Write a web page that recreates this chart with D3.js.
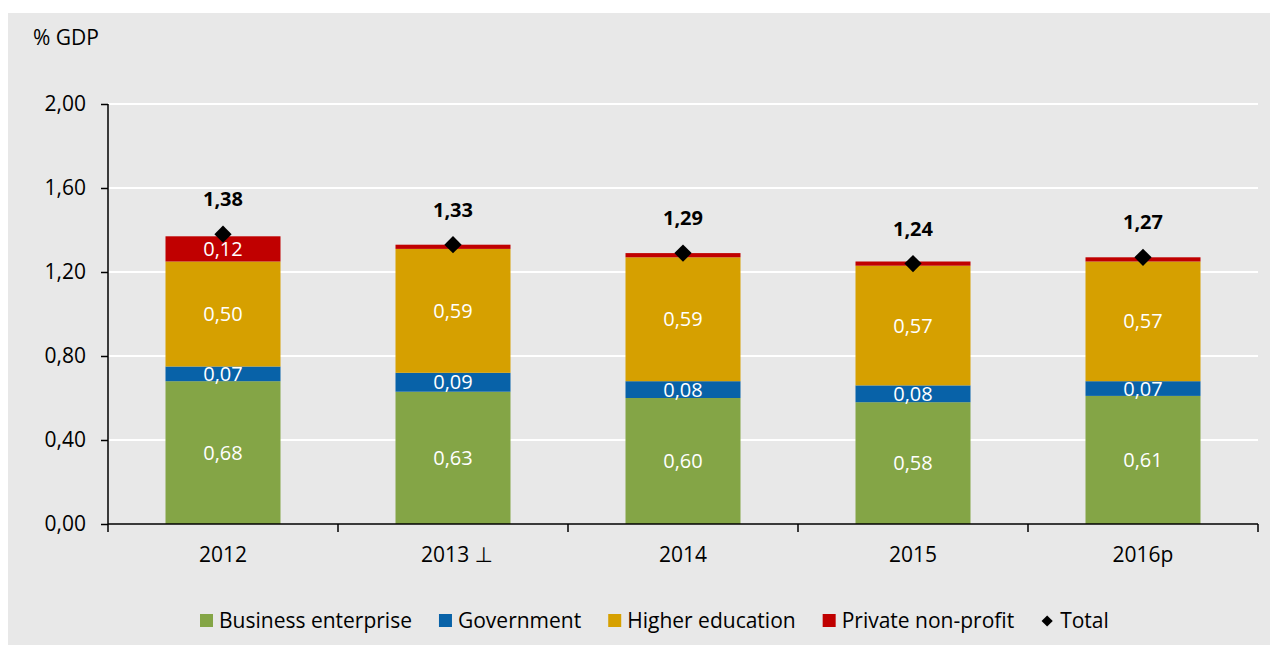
<!DOCTYPE html>
<html>
<head>
<meta charset="utf-8">
<script src="https://cdn.jsdelivr.net/npm/d3@7"></script>
<style>
  html, body { margin: 0; padding: 0; background: #ffffff; }
  svg { display: block; }
  text { font-family: "Open Sans", "DejaVu Sans", sans-serif; }
</style>
</head>
<body>
<svg id="chart" width="1270" height="645"></svg>
<script>
// ---- data ----
const categories = ["2012", "2013 \u22A5", "2014", "2015", "2016p"];
const seriesNames = ["Business enterprise", "Government", "Higher education", "Private non-profit"];
const business = [0.68, 0.63, 0.60, 0.58, 0.61];
const government = [0.07, 0.09, 0.08, 0.08, 0.07];
const higherEducation = [0.50, 0.59, 0.59, 0.57, 0.57];
const privateNonProfit = [0.12, 0.02, 0.02, 0.02, 0.02];
const totals = [1.38, 1.33, 1.29, 1.24, 1.27];
const yTicks = [0, 0.4, 0.8, 1.2, 1.6, 2.0];
const yLabel = "% GDP";
const totalName = "Total";

// ---- styles ----
const colors = ["#84A546", "#0862A8", "#D6A000", "#C00000"];
const bg = "#E8E8E8";
const fmt = v => d3.format(".2f")(v).replace(".", ",");

const svg = d3.select("#chart");
svg.append("rect").attr("x", 8).attr("y", 13).attr("width", 1262).attr("height", 632).attr("fill", bg);

const margin = { left: 108, right: 1258, top: 104, bottom: 524 };
const x = d3.scaleBand().domain(categories).range([margin.left, margin.right]).paddingInner(0.5).paddingOuter(0.25);
const xOuter = d3.scaleBand().domain(categories).range([margin.left, margin.right]).padding(0);
const y = d3.scaleLinear().domain([0, 2.0]).range([margin.bottom, margin.top]);

// gridlines
svg.append("g").selectAll("line").data(yTicks.filter(d => d > 0)).join("line")
  .attr("x1", margin.left).attr("x2", margin.right)
  .attr("y1", d => y(d)).attr("y2", d => y(d))
  .attr("stroke", "#ffffff").attr("stroke-width", 2);

// stacked data
const rows = categories.map((c, i) => ({
  cat: c,
  [seriesNames[0]]: business[i],
  [seriesNames[1]]: government[i],
  [seriesNames[2]]: higherEducation[i],
  [seriesNames[3]]: privateNonProfit[i]
}));
const stack = d3.stack().keys(seriesNames)(rows);

const layers = svg.append("g").selectAll("g").data(stack).join("g")
  .attr("fill", (d, i) => colors[i]);
layers.selectAll("rect").data(d => d).join("rect")
  .attr("x", d => x(d.data.cat))
  .attr("width", x.bandwidth())
  .attr("y", d => y(d[1]))
  .attr("height", d => y(d[0]) - y(d[1]));

// segment labels
const segLabels = svg.append("g");
stack.forEach(layer => {
  layer.forEach(d => {
    const val = d.data[layer.key];
    if (val >= 0.05) {
      segLabels.append("text")
        .attr("x", x(d.data.cat) + x.bandwidth() / 2)
        .attr("y", (y(d[0]) + y(d[1])) / 2)
        .attr("dy", "0.35em")
        .attr("text-anchor", "middle")
        .attr("fill", "#ffffff")
        .attr("font-size", 20)
        .text(fmt(val));
    }
  });
});

// axes
const yAxis = d3.axisLeft(y).tickValues(yTicks).tickFormat(fmt).tickSize(7).tickPadding(15);
const gy = svg.append("g").attr("transform", `translate(${margin.left},0)`).call(yAxis);
gy.select(".domain").attr("d", `M0,${margin.top}V${margin.bottom}`).attr("stroke", "#000").attr("stroke-width", 1.5);
gy.selectAll(".tick line").attr("stroke", "#000").attr("stroke-width", 1.5);
gy.selectAll(".tick text").attr("font-size", 21).attr("fill", "#000").attr("font-family", "Open Sans");

// x axis line + boundary ticks
const gx = svg.append("g");
gx.append("line").attr("x1", margin.left).attr("x2", margin.right)
  .attr("y1", margin.bottom).attr("y2", margin.bottom).attr("stroke", "#000").attr("stroke-width", 1.5);
const bounds = categories.map(c => xOuter(c)).concat([margin.right]);
gx.selectAll("line.b").data(bounds).join("line").attr("class", "b")
  .attr("x1", d => d).attr("x2", d => d)
  .attr("y1", margin.bottom).attr("y2", margin.bottom + 8)
  .attr("stroke", "#000").attr("stroke-width", 1.5);
gx.selectAll("text").data(categories).join("text")
  .attr("x", d => x(d) + x.bandwidth() / 2 + (d.length > 5 ? 4 : 0))
  .attr("y", 555).attr("dy", "0.35em")
  .attr("text-anchor", "middle").attr("font-size", 21).attr("fill", "#000")
  .text(d => d);

// y label
svg.append("text").attr("x", 33).attr("y", 38).attr("dy", "0.35em")
  .attr("font-size", 21).attr("fill", "#000").text(yLabel);

// totals markers
const diamond = d3.symbol().type(d3.symbolDiamond2).size(190);
svg.append("g").selectAll("path").data(categories).join("path")
  .attr("transform", (d, i) => `translate(${x(d) + x.bandwidth() / 2},${y(totals[i])})`)
  .attr("d", diamond).attr("fill", "#000");
svg.append("g").selectAll("text").data(categories).join("text")
  .attr("x", d => x(d) + x.bandwidth() / 2)
  .attr("y", (d, i) => y(totals[i]) - 35)
  .attr("dy", "0.35em")
  .attr("text-anchor", "middle").attr("font-size", 20).attr("font-weight", "bold").attr("fill", "#000")
  .text((d, i) => fmt(totals[i]));

// legend
const legendItems = seriesNames.map((n, i) => ({ name: n, color: colors[i], type: "rect" }))
  .concat([{ name: totalName, color: "#000", type: "diamond" }]);
const legend = svg.append("g");
let lx = 200;
const ly = 621;
legendItems.forEach(item => {
  const g = legend.append("g").attr("transform", `translate(${lx},${ly})`);
  if (item.type === "rect") {
    g.append("rect").attr("x", 0).attr("y", -7).attr("width", 13).attr("height", 13).attr("fill", item.color);
  } else {
    g.append("path").attr("transform", "translate(6,0)").attr("d", d3.symbol().type(d3.symbolDiamond2).size(80)).attr("fill", item.color);
  }
  const t = g.append("text").attr("x", 19).attr("y", 0).attr("dy", "0.35em")
    .attr("font-size", 21).attr("fill", "#000").text(item.name);
  const w = t.node().getComputedTextLength();
  lx += 19 + w + 27;
});
</script>
</body>
</html>
